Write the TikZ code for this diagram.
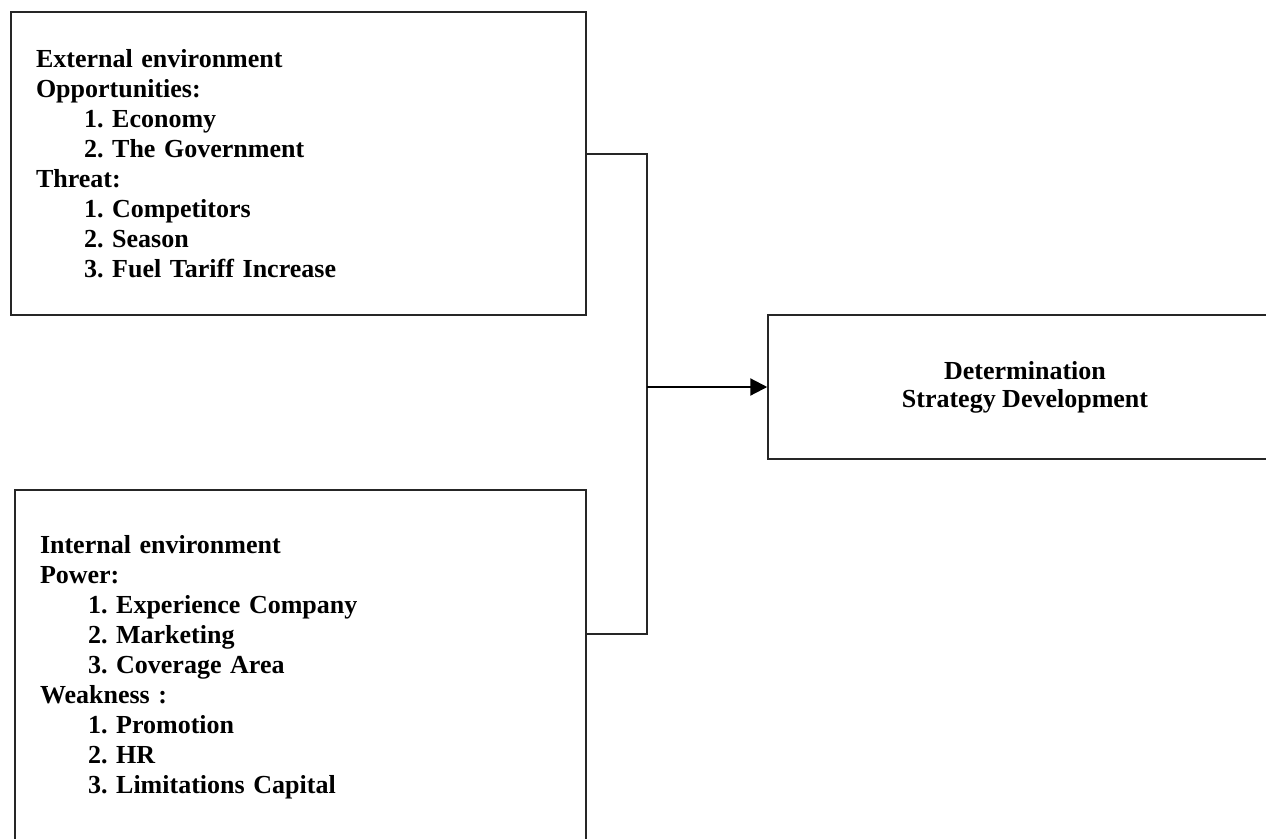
\documentclass[tikz,border=0pt]{standalone}
\usepackage{fontspec}
\setmainfont{Liberation Serif}
\usetikzlibrary{arrows.meta}
\tikzset{
  boxline/.style={draw=black!85, line width=1.5pt},
  listbox/.style={boxline, align=left, inner ysep=0pt, inner xsep=25pt,
    font=\bfseries\fontsize{26pt}{30pt}\selectfont\frenchspacing},
  titlebox/.style={boxline, align=center, inner sep=0pt,
    font=\bfseries\fontsize{26pt}{28pt}\selectfont\frenchspacing},
  link/.style={draw=black!85, line width=1.5pt},
  arrowlink/.style={draw=black, line width=2.2pt, -{Triangle[length=17pt,width=17pt]}}
}
\newcommand{\itm}{\hspace*{48pt}}
\begin{document}
\begin{tikzpicture}[x=1pt,y=-1pt]
\useasboundingbox (0,0) rectangle (1266,838);
\begin{scope}
\clip (0,0) rectangle (1266,838);
\node[listbox, minimum width=575pt, minimum height=303pt, text width=525pt] (ext) at (298.5,163.5)
 {External environment\\
  Opportunities:\\
  \itm 1. Economy\\
  \itm 2. The Government\\
  Threat:\\
  \itm 1. Competitors\\
  \itm 2. Season\\
  \itm 3. Fuel Tariff Increase};
\node[listbox, minimum width=571pt, minimum height=355pt, text width=521pt] (int) at (300.5,667.5)
 {Internal environment\\
  Power:\\
  \itm 1. Experience Company\\
  \itm 2. Marketing\\
  \itm 3. Coverage Area\\
  Weakness :\\
  \itm 1. Promotion\\
  \itm 2. HR\\
  \itm 3. Limitations Capital};
\node[titlebox, minimum width=514pt, minimum height=144pt] (det) at (1025,387)
 {Determination\\Strategy Development};
\coordinate (junc) at (647,387);
\draw[link] ([yshift=9.5pt]ext.east) -| (junc) |- ([yshift=33.5pt]int.east);
\draw[arrowlink] (junc) -- (det.west);
\end{scope}
\end{tikzpicture}
\end{document}
